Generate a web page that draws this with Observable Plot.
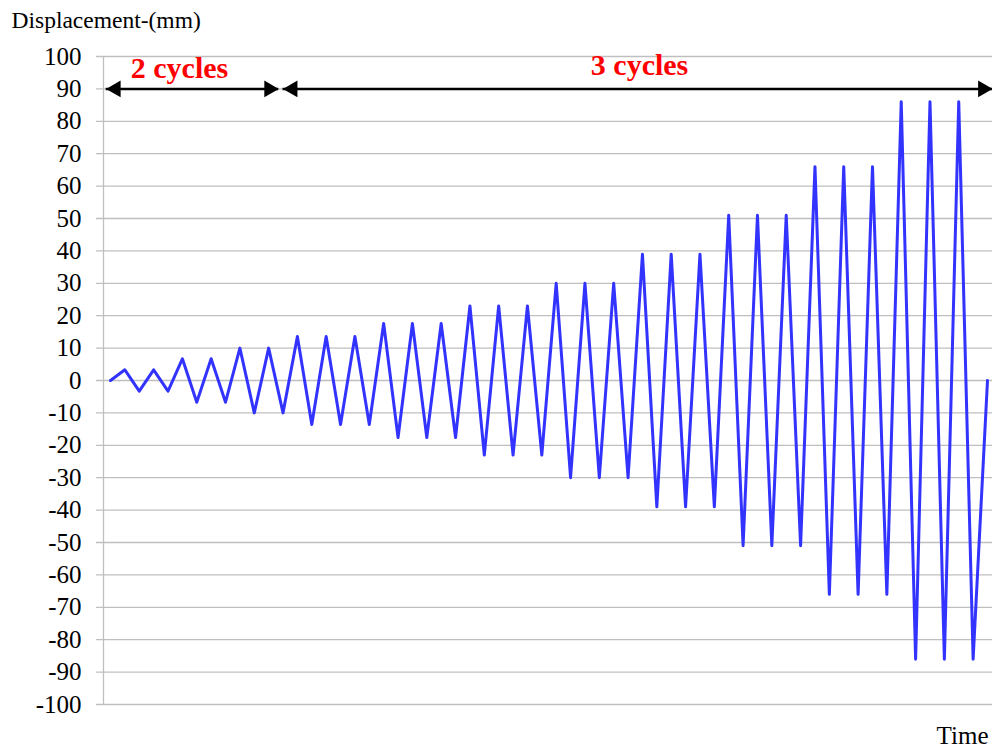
<!DOCTYPE html>
<html>
<head>
<meta charset="utf-8">
<script src="https://cdn.jsdelivr.net/npm/d3@7"></script>
<script src="https://cdn.jsdelivr.net/npm/@observablehq/plot@0.6"></script>
<style>
  html, body { margin: 0; padding: 0; background: #fff; }
  svg { display: block; }
</style>
</head>
<body>
<div id="chart"></div>
<script>
// Displacement history (mm), one value per turning point
const displacement = [
  0,
  3.3, -3.3, 3.3, -3.3,
  6.7, -6.7, 6.7, -6.7,
  10, -10, 10, -10,
  13.6, -13.6, 13.6, -13.6, 13.6, -13.6,
  17.6, -17.6, 17.6, -17.6, 17.6, -17.6,
  23, -23, 23, -23, 23, -23,
  30, -30, 30, -30, 30, -30,
  39, -39, 39, -39, 39, -39,
  51, -51, 51, -51, 51, -51,
  66, -66, 66, -66, 66, -66,
  86, -86, 86, -86, 86, -86,
  0
];
const step = displacement.map((_, i) => i);

// Annotations (cycle groups)
const groupLabels = ["2 cycles", "3 cycles"];
const groupStart = [-0.3, 12.0];
const groupEnd = [11.7, 61.35];
const groupLabelX = [4.8, 36.8];
const groupLabelY = [93.4, 94.4];
const arrowLevel = 90;

// Y tick values
const yTicks = [-100, -90, -80, -70, -60, -50, -40, -30, -20, -10, 0, 10, 20, 30, 40, 50, 60, 70, 80, 90, 100];

const series = step.map((t, i) => ({t, d: displacement[i]}));
const groups = groupLabels.map((label, i) => ({
  label, x1: groupStart[i], x2: groupEnd[i], lx: groupLabelX[i], ly: groupLabelY[i], y: arrowLevel
}));

const serif = "Liberation Serif";
const grid = "#bfbfbf";

const chart = Plot.plot({
  width: 992,
  height: 747,
  marginTop: 56,
  marginBottom: 43,
  marginLeft: 103,
  marginRight: 0,
  style: {background: "#fff", overflow: "visible"},
  x: {domain: [-0.487, 61.348], axis: null},
  y: {domain: [-100, 100], axis: null},
  marks: [
    // gridlines, extended left to form the tick marks
    Plot.ruleY(yTicks, {stroke: grid, strokeWidth: 1.3, insetLeft: -7}),
    Plot.ruleX([-0.487], {stroke: grid, strokeWidth: 1.3}),
    // tick labels
    Plot.text(yTicks, {y: d => d, frameAnchor: "left", dx: -22, textAnchor: "end", lineAnchor: "middle",
      text: d => String(d), fontSize: 25, fontFamily: serif, fill: "black"}),
    Plot.line(series, {x: "t", y: "d", stroke: "#3333ff", strokeWidth: 3, strokeLinejoin: "round"}),
    // arrow shafts
    Plot.ruleY(groups, {x1: "x1", x2: "x2", y: "y", stroke: "black", strokeWidth: 2.5}),
    // arrow heads
    Plot.dot(groups, {x: "x1", y: "y", symbol: "triangle", r: 6.2, rotate: -90, dx: 9.6, fill: "black", stroke: "none"}),
    Plot.dot(groups, {x: "x2", y: "y", symbol: "triangle", r: 6.2, rotate: 90, dx: -9.6, fill: "black", stroke: "none"}),
    Plot.text(groups, {x: "lx", y: "ly", text: "label", fill: "#ff0000", fontWeight: "bold",
      fontSize: 30, fontFamily: serif, lineAnchor: "bottom", textAnchor: "middle"}),
    Plot.text(["Displacement-(mm)"], {frameAnchor: "top-left", dx: -92, dy: -29, lineAnchor: "bottom",
      textAnchor: "start", fontSize: 23.5, fontFamily: serif, fill: "black"}),
    Plot.text(["Time"], {frameAnchor: "bottom-right", dx: -4, dy: 39, lineAnchor: "bottom",
      textAnchor: "end", fontSize: 25, fontFamily: serif, fill: "black"})
  ]
});
document.getElementById("chart").appendChild(chart);
</script>
</body>
</html>
